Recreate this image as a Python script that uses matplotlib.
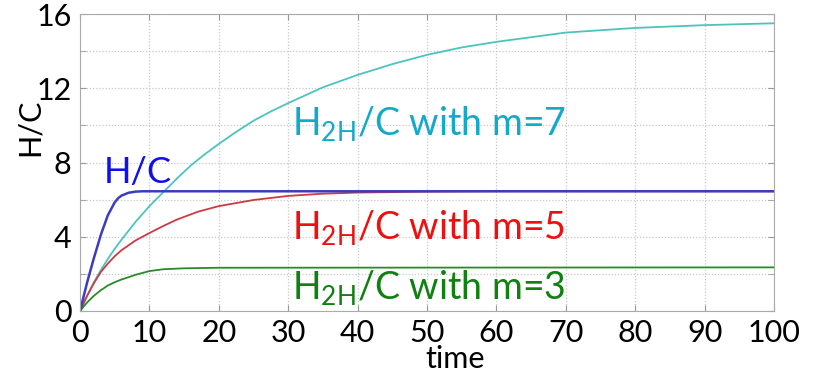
import matplotlib.pyplot as plt

# values
t_hc = [0, 1, 2, 3, 4, 5, 5.5, 6, 7, 8, 9, 100]
hc = [0, 1.5, 2.85, 4.1, 5.15, 5.85, 6.08, 6.22, 6.37, 6.43, 6.45, 6.45]

t_m7 = [0, 1, 2, 3, 4, 5, 6, 8, 10, 12, 14, 16, 18, 20, 22.5, 25, 27.5, 30, 35, 40,
        45, 50, 55, 60, 70, 80, 90, 100]
m7 = [0, 0.8, 1.55, 2.2, 2.8, 3.35, 3.85, 4.8, 5.65, 6.4, 7.15, 7.85, 8.45, 9.0,
      9.65, 10.25, 10.75, 11.2, 12.05, 12.72, 13.3, 13.8, 14.2, 14.5, 15.0, 15.25,
      15.4, 15.5]

t_m5 = [0, 1, 2, 3, 4, 5, 6, 8, 10, 12, 14, 17, 20, 25, 30, 35, 40, 50, 60, 100]
m5 = [0, 0.8, 1.5, 2.1, 2.55, 2.95, 3.28, 3.8, 4.2, 4.58, 4.93, 5.35, 5.65, 5.98,
      6.2, 6.32, 6.38, 6.43, 6.45, 6.45]

t_m3 = [0, 1, 2, 3, 4, 5, 6, 7, 8, 10, 12, 15, 20, 100]
m3 = [0, 0.45, 0.82, 1.12, 1.37, 1.55, 1.7, 1.82, 1.95, 2.15, 2.25, 2.3, 2.33, 2.35]

x_ticks = list(range(0, 101, 10))
y_major = [0, 4, 8, 12, 16]
y_minor = [2, 6, 10, 14]

plt.rcParams['font.family'] = ['Lato', 'DejaVu Sans']
plt.rcParams['mathtext.default'] = 'regular'

fig = plt.figure(figsize=(8.19, 3.81), dpi=100)
ax = fig.add_axes([80 / 819, 1 - 311 / 381, 694 / 819, 297 / 381])

ax.plot(t_m7, m7, color="#4cc4bc", lw=1.3)
ax.plot(t_m5, m5, color="#cc3a44", lw=1.3)
ax.plot(t_m3, m3, color="#2a8a2a", lw=1.3)
ax.plot(t_hc, hc, color="#3c3cc0", lw=1.8)

ax.set_xlim(0, 100)
ax.set_ylim(0, 16)
ax.set_xticks(x_ticks)
ax.set_yticks(y_major)
ax.set_yticks(y_minor, minor=True)
ax.grid(True, which="both", color="#c8c8c8", linestyle=(0, (1, 1.5)), lw=0.9)
ax.tick_params(which="both", direction="in", top=True, right=True, length=4,
               color="#999999", labelsize=22, pad=6)
ax.tick_params(which="minor", length=4)
for s in ax.spines.values():
    s.set_color("#aaaaaa")

ax.set_xlabel("time", fontsize=22)
ax.xaxis.set_label_coords(0.54, -0.115)
ax.set_ylabel("H/C", fontsize=22)
ax.yaxis.set_label_coords(-0.052, 0.62)

ax.text(3.4, 6.9, "H/C", color="#1010ee", fontsize=26)
ax.text(30.5, 9.5, "H$_{2H}$/C with m=7", color="#12aac8", fontsize=27)
ax.text(30.5, 3.9, "H$_{2H}$/C with m=5", color="#ee1010", fontsize=27)
ax.text(30.5, 0.65, "H$_{2H}$/C with m=3", color="#108010", fontsize=27)

fig.savefig("out.png", dpi=100)
